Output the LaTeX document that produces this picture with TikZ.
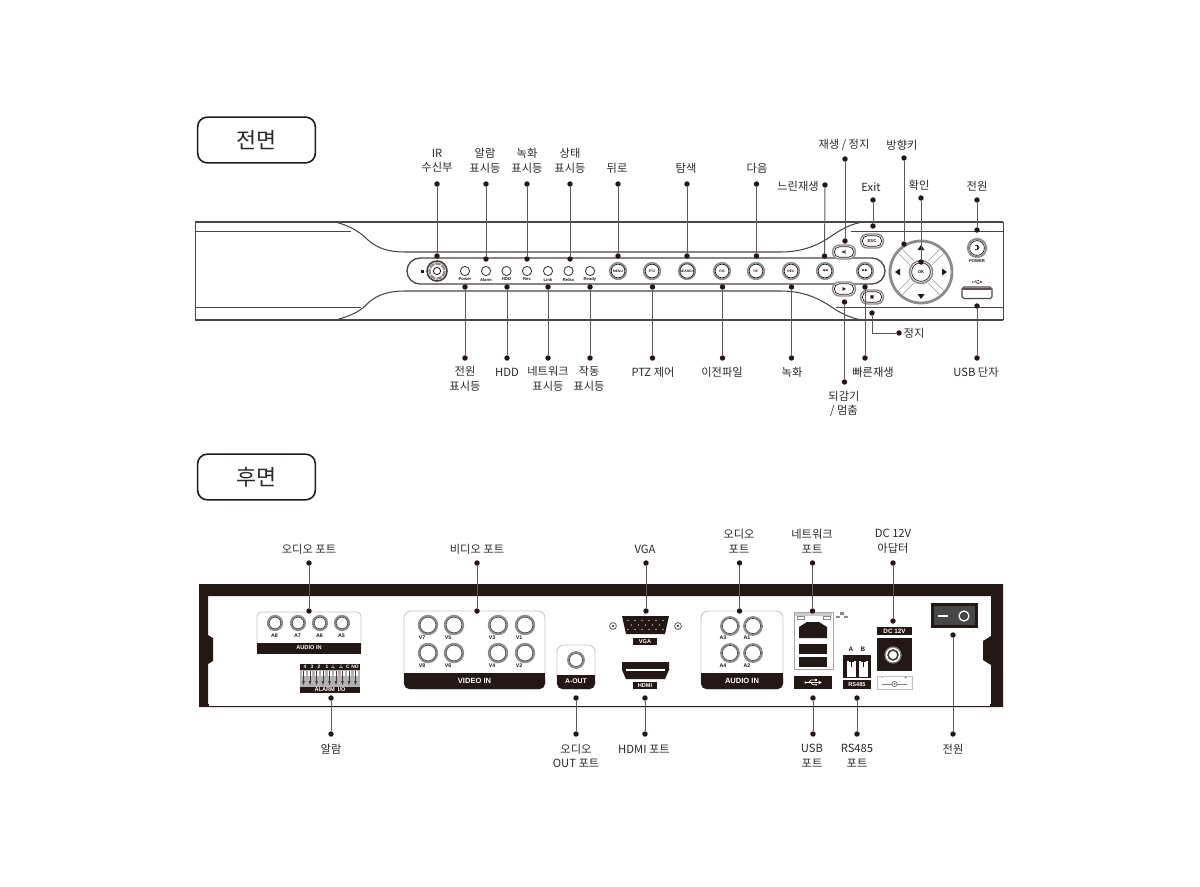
\documentclass[tikz,border=0pt]{standalone}
\usepackage{fontspec}
\setmainfont{Noto Sans CJK KR}
\newfontfamily\djv{DejaVu Sans}
\newfontfamily\lib{Liberation Sans}
\definecolor{ink}{HTML}{231815}
\definecolor{txt}{HTML}{2A2A2A}
\definecolor{conn}{HTML}{5A5A5A}
\definecolor{ring}{HTML}{8C8C8C}
\definecolor{edge}{HTML}{4A4543}
\tikzset{
  lbl/.style={text=txt,align=center,inner sep=0pt,font=\fontsize{6.4}{8.3}\selectfont},
  dotn/.style={circle,fill=ink,draw=none,minimum size=3.1pt,inner sep=0pt},
  cline/.style={draw=conn,line width=0.55pt},
  title/.style={draw=ink,line width=0.9pt,rounded corners=5.5pt,minimum width=67pt,minimum height=26pt,inner sep=0pt,font=\fontsize{12.4}{14}\selectfont,text=txt,fill=white},
  body/.style={draw=edge,line width=0.6pt},
  thin/.style={draw=edge,line width=0.4pt},
  tiny/.style={inner sep=0pt,font=\lib\bfseries\fontsize{2.4}{3}\selectfont,text=ink},
  small/.style={inner sep=0pt,font=\lib\bfseries\fontsize{3}{3.5}\selectfont,text=ink},
  band/.style={inner sep=0pt,font=\lib\bfseries\fontsize{3.2}{4}\selectfont,text=white},
  bandb/.style={inner sep=0pt,font=\lib\bfseries\fontsize{4.6}{5}\selectfont,text=white},
  panel/.style={draw=black!22,line width=0.5pt,fill=white,rounded corners=2.5pt},
}
\newcommand{\callout}[5]{%
  \node[dotn] (#1a) at (#2,#3) {};
  \node[dotn] (#1b) at (#4,#5) {};
  \draw[cline] (#1a) -- (#1b);}
\newcommand{\jack}[3]{%
  \draw[fill=white,draw=ring,line width=1.05pt] (#1,#2) circle (#3);
  \draw[draw=ink!80,line width=0.4pt] (#1,#2) circle (#3-1.4);}
\newcommand{\btn}[4]{% name, position, width, text
  \node[draw=ring,fill=white,line width=0.8pt,rounded corners=4pt,minimum width=#3*0.569pt,minimum height=8pt,inner sep=0pt] (#1) at (#2) {};
  \node[draw=ink,line width=0.4pt,rounded corners=3pt,minimum width=#3*0.569pt-2pt,minimum height=6pt,inner sep=0pt,tiny] at (#2) {#4};}
\newcommand{\usbsym}[4]{%
  \begin{scope}[shift={(#1,#2)},scale=#3]
    \fill[#4] (-12,0) circle (2);
    \draw[#4,line width=#3*0.6pt] (-12,0) -- (9,0) (-7,0) -- (-3,-4) -- (3,-4) (-4,0) -- (0,3.5) -- (4,3.5);
    \fill[#4] (9,-3) -- (14,0) -- (9,3) -- cycle;
    \fill[#4] (3,-5.5) rectangle (6,-2.5);
    \fill[#4] (5,3.5) circle (1.6);
  \end{scope}}
\begin{document}
\begin{tikzpicture}[x=0.02cm,y=-0.02cm]
\useasboundingbox (0,0) rectangle (1200,886);
\fill[white] (0,0) rectangle (1200,886);

% ---------- titles
\node[title] (tf) at (256.5,140) {전면};
\node[title] (tr) at (256.5,477) {후면};

% ---------- front chassis
\draw[body,line width=0.85pt] (195,222) -- (1003,222);
\draw[body,line width=0.85pt] (195,320) -- (1003,320);
\draw[thin] (195,222) -- (195,320);
\draw[thin] (1003,222) -- (1003,320);
\draw[thin] (195,231) -- (351,231);
\draw[thin] (195,307) -- (361,307);
\draw[thin] (851,231) -- (1003,231);
\draw[thin] (836,307) -- (1003,307);
\draw[body] (335,222) .. controls (352,226) and (362,234) .. (368,240) .. controls (378,249) and (390,252) .. (405,252) -- (780,252) .. controls (800,252) and (815,247) .. (830,237) .. controls (840,230) and (850,224) .. (863,222);
\draw[body] (335,320) .. controls (352,316) and (362,310) .. (368,303) .. controls (378,294) and (390,291) .. (405,291) -- (780,291) .. controls (800,291) and (815,296) .. (830,306) .. controls (840,313) and (850,318) .. (862,320);

% pill
\draw[draw=edge,line width=0.75pt,rounded corners=7.4pt] (407,258) rectangle (885,284);

% IR
\draw[fill=white,draw=ink!85,line width=0.9pt] (437,271) circle (10);
\draw[draw=ring,line width=1.3pt,dash pattern=on 3.2pt off 0.6pt] (437,271) circle (7.5);
\draw[draw=ink,line width=0.5pt,fill=white] (437,271) circle (3.6);
\fill[ink] (420.5,269.5) rectangle (423.5,272.5);

% LEDs
\foreach \x/\t in {465/Power,486/Alarm,506.5/HDD,527/Rec,548/Link,568.5/Relax,590/Ready}{
  \draw[fill=white,draw=ink!85,line width=0.5pt] (\x,271) circle (4.6);
  \node[tiny] at (\x,279.5) {\t};
}
% buttons
\foreach \x/\t [count=\i] in {618/MENU,652/PTZ,687/SEARCH,722/{F/B},756/{F/F},791/REC,825/{\djv ◀◀},865/{\djv ▶▶}}{
  \draw[fill=white,draw=ring,line width=0.9pt] (\x,271) circle (8.3);
  \node[draw=ink,line width=0.4pt,circle,minimum size=7.8pt,inner sep=0pt,tiny,font=\lib\bfseries\fontsize{1.9}{2}\selectfont] (mb\i) at (\x,271) {\t};
}
\btn{bplay}{844,252}{23}{\djv ◀|}
\btn{brew}{844,289}{23}{\djv |▶}
\btn{besc}{872,241}{23}{ESC}
\btn{bstop}{872,297}{23}{\djv ■}

% D-pad
\draw[fill=white,draw=ring,line width=1.6pt] (921,272) circle (31);
\foreach \a in {45,135,225,315}{
  \begin{scope}[shift={(921,272)},rotate=\a]
    \draw[draw=black!40,line width=0.35pt] (13,-2.8) -- (29,-2.8);
    \draw[draw=black!40,line width=0.35pt] (13,2.8) -- (29,2.8);
  \end{scope}
}
\draw[fill=white,draw=ring,line width=0.9pt] (921,272) circle (11.5);
\draw[draw=ink,line width=0.4pt] (921,272) circle (9.4);
\node[tiny] at (921,272) {OK};
\fill[ink] (921,245) -- (924.5,250) -- (917.5,250) -- cycle;
\fill[ink] (921,299) -- (924.5,294) -- (917.5,294) -- cycle;
\fill[ink] (895,272) -- (900,268.5) -- (900,275.5) -- cycle;
\fill[ink] (947,272) -- (942,268.5) -- (942,275.5) -- cycle;

% power + usb
\draw[fill=white,draw=ring,line width=1.05pt] (977,248) circle (9.2);
\draw[draw=ink,line width=0.4pt] (977,248) circle (7.4);
\draw[draw=ink,line width=0.35pt] (975,246) arc[start angle=135,end angle=-135,radius=2.8*0.569pt*0.8];
\draw[draw=ink,line width=0.35pt] (977,245) -- (977,249);
\node[tiny] at (977,261) {POWER};
\draw[draw=ink!80,fill=white,line width=0.6pt,rounded corners=1pt] (962,287) rectangle (992,298.5);
\fill[ink!75] (963,287.5) rectangle (991,290);
\usbsym{977}{282}{0.38}{ink}

% ---------- rear chassis
\fill[ink,even odd rule] (199,584) -- (1003,584) -- (1003,707) -- (199,707) -- cycle
  (208,596) -- (208,635) -- (213,638) -- (213,661) -- (208,664) -- (208,704) -- (991,704) -- (991,665) -- (983,660) -- (983,641) -- (991,636) -- (991,596) -- cycle;
\fill[white] (209,704.3) rectangle (990,706);

% audio in left
\draw[panel] (257,612) rectangle (361,653);
\fill[ink] (257,643) rectangle (361,653.5);
\node[band] at (309,648) {AUDIO IN};
\foreach \x/\t in {275/A8,298/A7,320/A6,342/A5}{
  \jack{\x}{623}{7.2}
  \node[small] at (\x-0.5,636) {\t};
}
% alarm
\fill[ink] (300,664) rectangle (360,669.5);
\foreach \x/\t in {305/4,312/3,319/2,327/1,333/{\djv ⊥},341/{\djv ⊥},348/C,355/NO}{
  \node[inner sep=0pt,text=white,font=\lib\bfseries\fontsize{2.8}{3}\selectfont] at (\x,666.8) {\t};
}
\fill[black!30] (300,670) rectangle (360,686.5);
\foreach \x in {303.5,310,316.5,323,329.5,336,342.5,349,355.5}{
  \fill[white] (\x-2,671) rectangle (\x+2,676);
  \fill[ink!85] (\x-0.5,671) rectangle (\x+0.5,681);
  \fill[ink!85] (\x-1.4,681) -- (\x+1.4,681) -- (\x,685) -- cycle;
}
\fill[ink] (300,687) rectangle (360,693);
\node[inner sep=0pt,text=white,font=\lib\bfseries\fontsize{3.2}{4}\selectfont] at (330,690) {ALARM\ \ I/O};

% video in
\draw[panel,rounded corners=4pt] (404,611) rectangle (545,689);
\fill[ink,rounded corners=3pt] (404,673) -- (545,673) -- (545,689) -- (404,689) -- cycle;
\fill[ink] (404,673) rectangle (545,682);
\node[bandb,font=\lib\bfseries\fontsize{4.3}{5}\selectfont] at (474.5,681) {VIDEO IN};
\foreach \x/\y/\t/\lx/\ly in {428/625/V7/422/638,454/625/V5/448/638,498/625/V3/492/638,525/625/V1/519/638,428/653/V8/422/666,454/653/V6/448/666,498/653/V4/492/666,525/653/V2/519/666}{
  \jack{\x}{\y}{9.3}
  \node[small] at (\lx,\ly) {\t};
}
% A-OUT
\draw[panel,rounded corners=4pt] (557,645) rectangle (595,689);
\fill[ink,rounded corners=3pt] (557,675) -- (595,675) -- (595,689) -- (557,689) -- cycle;
\fill[ink] (557,675) rectangle (595,682);
\node[bandb,font=\lib\bfseries\fontsize{3.9}{5}\selectfont] at (576,681.5) {A-OUT};
\jack{576}{660}{8}

% VGA
\fill[ink] (622,616) -- (669,616) -- (665,634) -- (626,634) -- cycle;
\foreach \x in {628,635,642,649,656,663}{\fill[white] (\x,620.5) circle (0.55);\fill[white] (\x,629.5) circle (0.55);}
\foreach \x in {631.5,638.5,645.5,652.5,659.5}{\fill[white] (\x,625) circle (0.55);}
\foreach \x in {613,678}{
  \draw[draw=ink!80,line width=0.4pt] (\x,626) circle (3.4);
  \fill[ink!80] (\x,626) circle (1.4);
}
\fill[ink] (633,638) rectangle (657,645);
\node[band] at (645,641.5) {VGA};

% HDMI
\fill[ink] (622,662) -- (669,662) -- (669,670) -- (665,679) -- (626,679) -- (622,670) -- cycle;
\fill[white] (626,668.5) rectangle (665,671);
\fill[ink] (633,682) rectangle (657,688.5);
\node[band] at (645,685.2) {HDMI};

% audio in right
\draw[panel,rounded corners=4pt] (701,611) rectangle (783,689);
\fill[ink,rounded corners=3pt] (701,673) -- (783,673) -- (783,689) -- (701,689) -- cycle;
\fill[ink] (701,673) rectangle (783,682);
\node[bandb,font=\lib\bfseries\fontsize{4.3}{5}\selectfont] at (742,680.5) {AUDIO IN};
\foreach \x/\y/\t/\lx/\ly in {730/626/A3/723/638,753/626/A1/747/638,730/653/A4/723/666,753/653/A2/747/666}{
  \jack{\x}{\y}{9}
  \node[small] at (\lx,\ly) {\t};
}

% network + usb
\draw[draw=black!35,line width=0.5pt,fill=white] (794,612) rectangle (833,669);
\fill[black!20] (795,613) rectangle (832,616);
\draw[draw=black!45,line width=0.35pt] (797,616) rectangle (804,619.5) (823,616) rectangle (830,619.5);
\fill[ink] (799,627) -- (807,622) -- (819,622) -- (827,627) -- (827,638) -- (799,638) -- cycle;
\fill[ink] (799,644) rectangle (827,654);
\fill[ink] (799,657) rectangle (827,667);
\fill[ink] (794,676) rectangle (832,689);
\usbsym{813}{682.5}{0.62}{white}
\foreach \x/\y in {838/617,842/613.5,846/617}{\fill[black!45] (\x-1.6,\y-1.2) rectangle (\x+1.6,\y+1.2);}

% RS485
\node[small,font=\lib\bfseries\fontsize{3.6}{4}\selectfont] at (851,649) {A};
\node[small,font=\lib\bfseries\fontsize{3.6}{4}\selectfont] at (863,649) {B};
\fill[ink] (843,655) rectangle (871,689);
\fill[white] (847,661) rectangle (855.5,677);
\fill[white] (859,661) rectangle (868,677);
\fill[ink] (850.5,657) rectangle (852,667);
\fill[ink] (848.5,660.5) rectangle (854,662);
\fill[ink] (862.5,657) rectangle (864,667);
\fill[ink] (860.5,660.5) rectangle (866,662);
\fill[white] (843,678) rectangle (871,679.5);
\node[band] at (857,684.5) {RS485};

% DC 12V
\fill[ink] (877,627) rectangle (912,635);
\node[band,font=\lib\bfseries\fontsize{3.6}{4}\selectfont] at (894.5,631) {DC 12V};
\fill[ink] (877,638) rectangle (912,671);
\draw[fill=white,draw=black!50,line width=0.7pt] (893,655) circle (8);
\draw[fill=white,draw=ink!85,line width=0.9pt] (893,655) circle (5);
\draw[draw=black!25,line width=0.5pt] (877,676) rectangle (912,689);
\draw[draw=black!50,line width=0.3pt] (882,684) -- (907,684);
\draw[draw=ink!70,line width=0.35pt,fill=white] (894.5,684) circle (2.6);
\fill[ink!70] (894.5,684) circle (1);
\node[inner sep=0pt,text=ink,font=\lib\fontsize{2.6}{3}\selectfont] at (882,678.5) {-};
\node[inner sep=0pt,text=ink,font=\lib\fontsize{2.6}{3}\selectfont] at (906,678.5) {+};

% switch
\fill[ink] (931,603) rectangle (978,628);
\fill[black!72] (934,606) rectangle (975,625);
\fill[white] (938,615.2) rectangle (948,616.8);
\draw[draw=white,line width=0.7pt] (964,616) circle (5);

% ---------- front top callouts
\callout{fa}{437}{184}{437}{256}
\callout{fb}{486}{184}{486}{259}
\callout{fc}{527}{184}{527}{259}
\callout{fd}{570}{184}{570}{259}
\callout{fe}{618}{184}{618}{256}
\callout{ff}{687}{184}{687}{256}
\callout{fg}{756.5}{184}{756.5}{256}
\callout{fh}{825}{185}{824.5}{256}
\callout{fi}{845}{159}{845}{241}
\callout{fj}{904}{158}{904}{244}
\callout{fk}{921}{198}{921}{262}
\callout{fl}{873}{200}{873}{226}
\callout{fm}{977}{200}{977}{230}
% front bottom callouts
\callout{ga}{465}{287}{465}{358}
\callout{gb}{507}{287}{507}{358}
\callout{gc}{548}{287}{548}{358}
\callout{gd}{590}{287}{590}{358}
\callout{ge}{652.5}{287}{652.5}{358}
\callout{gf}{722.5}{287}{722.5}{358}
\callout{gg}{791.5}{287}{791.5}{358}
\callout{gh}{844.5}{302}{844.5}{382}
\callout{gi}{865}{287}{865}{358}
\callout{gj}{977}{306}{977}{358}
\node[dotn] (sa) at (872,313) {};
\node[dotn] (sb) at (899,333) {};
\draw[cline] (sa) |- (sb);
% rear callouts
\callout{ra}{309}{563}{309}{611}
\callout{rb}{477}{563}{477}{611}
\callout{rc}{646}{563}{646}{611}
\callout{rd}{739.5}{563}{739.5}{611}
\callout{re}{812.5}{563}{812.5}{611}
\callout{rf}{893}{563}{893}{621}
\callout{sg}{331}{698}{331}{734}
\callout{sh}{576}{698}{576}{734}
\callout{si}{645}{698}{645}{734}
\callout{sj}{813}{698}{813}{734}
\callout{sk}{857}{698}{857}{734}
\callout{sl}{953}{635}{953}{734}

% ---------- labels
\node[lbl] (l1) at (437,161) {IR\\수신부};
\node[lbl] (l2) at (485,161) {알람\\표시등};
\node[lbl] (l3) at (527,161) {녹화\\표시등};
\node[lbl] (l4) at (570,161) {상태\\표시등};
\node[lbl] (l5) at (617,168) {뒤로};
\node[lbl] (l6) at (686,168) {탐색};
\node[lbl] (l7) at (757,168) {다음};
\node[lbl] (l8) at (798,186) {느린재생};
\node[lbl] (l9) at (844,145) {재생 / 정지};
\node[lbl] (l10) at (902,145) {방향키};
\node[lbl] (l11) at (871,187) {Exit};
\node[lbl] (l12) at (919,185) {확인};
\node[lbl] (l13) at (977,186) {전원};
\node[lbl] (l14) at (465,379) {전원\\표시등};
\node[lbl] (l15) at (507,372) {HDD};
\node[lbl] (l16) at (548,379) {네트워크\\표시등};
\node[lbl] (l17) at (589,379) {작동\\표시등};
\node[lbl] (l18) at (653,372) {PTZ 제어};
\node[lbl] (l19) at (722,372) {이전파일};
\node[lbl] (l20) at (792,372) {녹화};
\node[lbl] (l21) at (844,404) {되감기\\/ 멈춤};
\node[lbl] (l22) at (873,372) {빠른재생};
\node[lbl] (l23) at (914,333) {정지};
\node[lbl] (l24) at (976,372) {USB 단자};
\node[lbl] (l25) at (309,549) {오디오 포트};
\node[lbl] (l26) at (477,549) {비디오 포트};
\node[lbl] (l27) at (645,549) {VGA};
\node[lbl] (l28) at (739,541.5) {오디오\\포트};
\node[lbl] (l29) at (812,541.5) {네트워크\\포트};
\node[lbl] (l30) at (893,541.5) {DC 12V\\아답터};
\node[lbl] (l31) at (331,749) {알람};
\node[lbl] (l32) at (576,756) {오디오\\OUT 포트};
\node[lbl] (l33) at (644,749) {HDMI 포트};
\node[lbl] (l34) at (812,756) {USB\\포트};
\node[lbl] (l35) at (857,756) {RS485\\포트};
\node[lbl] (l36) at (953,749) {전원};
\end{tikzpicture}
\end{document}
